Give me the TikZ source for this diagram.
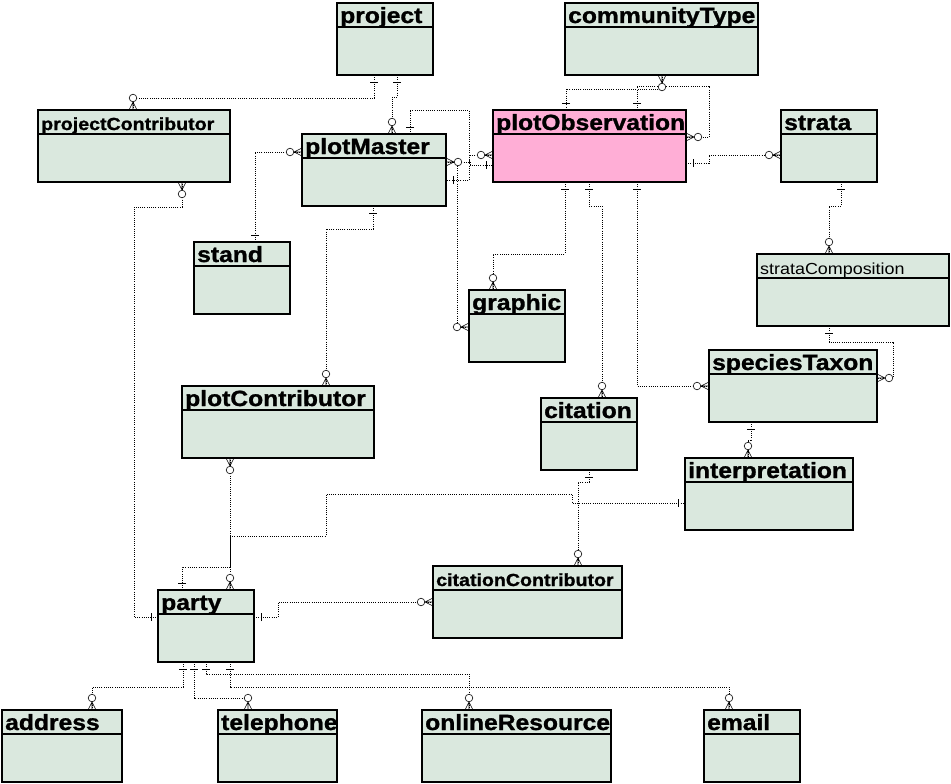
\documentclass[tikz,border=0pt]{standalone}
\usepackage{fontspec}
\setmainfont{Liberation Sans}
\newfontfamily\ttlfont[FakeStretch=1.12, BoldFeatures={FakeBold=1.2}]{Liberation Sans}
\definecolor{boxfill}{RGB}{218,232,222}
\definecolor{pinkfill}{RGB}{255,174,214}
\tikzset{
  ebox/.style={draw=black, line width=1.2pt, inner sep=0pt, outer sep=0pt},
  hdr/.style={line width=1.1pt},
  rel/.style={line width=0.75pt, dash pattern=on 1pt off 1.2pt},
  solidrel/.style={line width=0.9pt},
  bigtitle/.style={font=\ttlfont\bfseries\fontsize{22}{24}\selectfont},
  smalltitle/.style={font=\ttlfont\bfseries\fontsize{17.5}{19}\selectfont},
  plaintitle/.style={font=\ttlfont\fontsize{16}{18}\selectfont},
  pics/many/.style={code={
    \draw[line width=0.6pt] (-4,0) -- (0,8) -- (4,0) (0,0) -- (0,8);
    \draw[line width=0.6pt, fill=white] (0,12) circle[radius=3.8];
  }},
  pics/one/.style={code={\draw[line width=0.7pt] (-4,7) -- (4,7);}},
}
\newcommand{\mkent}[8]{%
  \node[ebox, fill=#6, minimum width={(#4-#2)*1pt}, minimum height={(#5-#3)*1pt}] (#1) at ({(#2+#4)/2},{(#3+#5)/2}) {};
  \draw[hdr] (#1.west |- 0,#3+24) -- (#1.east |- 0,#3+24);
  \node[anchor=base west, inner sep=0pt, #7] (#1-title) at (#2+3,#3+20) {#8};
}
\begin{document}
\begin{tikzpicture}[x=1pt,y=-1pt]
\useasboundingbox[fill=white] (0,0) rectangle (951,784);

\mkent{project}{337}{3}{433}{75}{boxfill}{bigtitle}{project}
\mkent{communityType}{565}{3}{758}{75}{boxfill}{bigtitle}{communityType}
\mkent{projectContributor}{38}{110}{230}{182}{boxfill}{smalltitle}{projectContributor}
\mkent{plotMaster}{302}{134}{446}{206}{boxfill}{bigtitle}{plotMaster}
\mkent{plotObservation}{493}{110}{686}{182}{pinkfill}{bigtitle}{plotObservation}
\mkent{strata}{781}{110}{877}{182}{boxfill}{bigtitle}{strata}
\mkent{stand}{194}{242}{290}{314}{boxfill}{bigtitle}{stand}
\mkent{graphic}{469}{290}{565}{362}{boxfill}{bigtitle}{graphic}
\mkent{strataComposition}{757}{254}{949}{326}{boxfill}{plaintitle}{strataComposition}
\mkent{speciesTaxon}{709}{350}{877}{422}{boxfill}{bigtitle}{speciesTaxon}
\mkent{plotContributor}{182}{386}{374}{458}{boxfill}{bigtitle}{plotContributor}
\mkent{citation}{541}{398}{637}{470}{boxfill}{bigtitle}{citation}
\mkent{interpretation}{685}{458}{853}{530}{boxfill}{bigtitle}{interpretation}
\mkent{citationContributor}{433}{566}{622}{638}{boxfill}{smalltitle}{citationContributor}
\mkent{party}{158}{590}{254}{662}{boxfill}{bigtitle}{party}
\mkent{address}{2}{710}{122}{782}{boxfill}{bigtitle}{address}
\mkent{telephone}{218}{710}{337}{782}{boxfill}{bigtitle}{telephone}
\mkent{onlineResource}{422}{710}{611}{782}{boxfill}{bigtitle}{onlineResource}
\mkent{email}{704}{710}{800}{782}{boxfill}{bigtitle}{email}

% project -> projectContributor
\draw[rel] (project.south -| 374,0) -- (374,98) -- (133,98) -- (projectContributor.north -| 133,0);
\pic at (project.south -| 374,0) {one};
\pic[rotate=180] at (projectContributor.north -| 133,0) {many};
% project -> plotMaster
\draw[rel] (project.south -| 397,0) -- (397,97) -- (392,97) -- (plotMaster.north -| 392,0);
\pic at (project.south -| 397,0) {one};
\pic[rotate=180] at (plotMaster.north -| 392,0) {many};
% communityType <-> plotObservation
\draw[rel] (communityType.south -| 662,0) -- (662,89) -- (566,89) -- (plotObservation.north -| 566,0);
\draw[rel] (662,86) -- (637,86) -- (plotObservation.north -| 637,0);
\draw[rel] (662,86) -- (709,86) -- (709,137) -- (plotObservation.east |- 0,137);
\pic at (communityType.south -| 662,0) {many};
\pic[rotate=180] at (plotObservation.north -| 566,0) {one};
\pic[rotate=180] at (plotObservation.north -| 637,0) {one};
\pic[rotate=90] at (plotObservation.east |- 0,137) {many};
% plotMaster self loop
\draw[rel] (plotMaster.north -| 410,0) -- (410,110) -- (469,110) -- (469,180) -- (plotMaster.east |- 0,180);
\pic[rotate=180] at (plotMaster.north -| 410,0) {one};
\pic[rotate=90] at (plotMaster.east |- 0,180) {one};
% plotMaster <-> plotObservation
\draw[rel] (plotMaster.east |- 0,162) -- (470,162) -- (470,165) -- (plotObservation.west |- 0,165);
\draw[rel] (plotObservation.west |- 0,155) -- (469,155) -- (469,162);
\pic[rotate=-90] at (plotObservation.west |- 0,165) {one};
\pic[rotate=-90] at (plotObservation.west |- 0,155) {many};
% plotMaster -> graphic
\draw[rel] (457,166) -- (457,327) -- (graphic.west |- 0,327);
\pic[rotate=-90] at (graphic.west |- 0,327) {many};
\pic[rotate=90] at (plotMaster.east |- 0,162) {many};
% stand -> plotMaster
\draw[rel] (plotMaster.west |- 0,152) -- (255,152) -- (stand.north -| 255,0);
\pic[rotate=-90] at (plotMaster.west |- 0,152) {many};
\pic[rotate=180] at (stand.north -| 255,0) {one};
% projectContributor -> party
\draw[rel] (projectContributor.south -| 182,0) -- (182,207) -- (134,207) -- (134,617) -- (party.west |- 0,617);
\pic at (projectContributor.south -| 182,0) {many};
\pic[rotate=-90] at (party.west |- 0,617) {one};
% plotMaster -> plotContributor
\draw[rel] (plotMaster.south -| 373,0) -- (373,229) -- (326,229) -- (plotContributor.north -| 326,0);
\pic at (plotMaster.south -| 373,0) {one};
\pic[rotate=180] at (plotContributor.north -| 326,0) {many};
% plotContributor -> party
\draw[rel] (plotContributor.south -| 230,0) -- (230,536);
\draw[rel] (230,567) -- (party.north -| 230,0);
\pic at (plotContributor.south -| 230,0) {many};
\pic[rotate=180] at (party.north -| 230,0) {many};
% party -> interpretation
\draw[rel] (party.north -| 182,0) -- (182,567) -- (230,567);
\draw[solidrel] (230,567) -- (230,536);
\draw[rel] (230,536) -- (326,536) -- (326,494) -- (572,494) -- (572,503) -- (interpretation.west |- 0,503);
\pic[rotate=180] at (party.north -| 182,0) {one};
\pic[rotate=-90] at (interpretation.west |- 0,503) {one};
% citation -> citationContributor
\draw[rel] (citation.south -| 589,0) -- (589,482) -- (578,482) -- (citationContributor.north -| 578,0);
\pic at (citation.south -| 589,0) {one};
\pic[rotate=180] at (citationContributor.north -| 578,0) {many};
% party -> citationContributor
\draw[rel] (party.east |- 0,617) -- (278,617) -- (278,602) -- (citationContributor.west |- 0,602);
\pic[rotate=90] at (party.east |- 0,617) {one};
\pic[rotate=-90] at (citationContributor.west |- 0,602) {many};
% party -> address, telephone, onlineResource, email
\draw[rel] (party.south -| 183,0) -- (183,687) -- (92,687) -- (address.north -| 92,0);
\draw[rel] (party.south -| 194,0) -- (194,698) -- (244,698);
\draw[rel] (party.south -| 206,0) -- (206,674) -- (469,674) -- (onlineResource.north -| 469,0);
\draw[rel] (party.south -| 230,0) -- (230,687) -- (729,687) -- (email.north -| 729,0);
\pic at (party.south -| 183,0) {one};
\pic at (party.south -| 194,0) {one};
\pic at (party.south -| 206,0) {one};
\pic at (party.south -| 230,0) {one};
\pic[rotate=180] at (address.north -| 92,0) {many};
\pic[rotate=180] at (telephone.north -| 248,0) {many};
\pic[rotate=180] at (onlineResource.north -| 469,0) {many};
\pic[rotate=180] at (email.north -| 729,0) {many};
% plotObservation -> graphic, citation, speciesTaxon, strata
\draw[rel] (plotObservation.south -| 565,0) -- (565,254) -- (493,254) -- (graphic.north -| 493,0);
\pic at (plotObservation.south -| 565,0) {one};
\pic[rotate=180] at (graphic.north -| 493,0) {many};
\draw[rel] (plotObservation.south -| 589,0) -- (589,206) -- (602,206) -- (citation.north -| 602,0);
\pic at (plotObservation.south -| 589,0) {one};
\pic[rotate=180] at (citation.north -| 602,0) {many};
\draw[rel] (plotObservation.south -| 637,0) -- (637,386) -- (speciesTaxon.west |- 0,386);
\pic at (plotObservation.south -| 637,0) {one};
\pic[rotate=-90] at (speciesTaxon.west |- 0,386) {many};
\draw[rel] (plotObservation.east |- 0,163) -- (709,163) -- (709,155) -- (strata.west |- 0,155);
\pic[rotate=90] at (plotObservation.east |- 0,163) {one};
\pic[rotate=-90] at (strata.west |- 0,155) {many};
% strata -> strataComposition
\draw[rel] (strata.south -| 841,0) -- (841,206) -- (829,206) -- (strataComposition.north -| 829,0);
\pic at (strata.south -| 841,0) {one};
\pic[rotate=180] at (strataComposition.north -| 829,0) {many};
% strataComposition -> speciesTaxon
\draw[rel] (strataComposition.south -| 829,0) -- (829,342) -- (893,342) -- (893,378) -- (speciesTaxon.east |- 0,378);
\pic at (strataComposition.south -| 829,0) {one};
\pic[rotate=90] at (speciesTaxon.east |- 0,378) {many};
% speciesTaxon -> interpretation
\draw[rel] (speciesTaxon.south -| 751,0) -- (751,440) -- (748,440) -- (interpretation.north -| 748,0);
\pic at (speciesTaxon.south -| 751,0) {one};
\pic[rotate=180] at (interpretation.north -| 748,0) {many};
\end{tikzpicture}
\end{document}
